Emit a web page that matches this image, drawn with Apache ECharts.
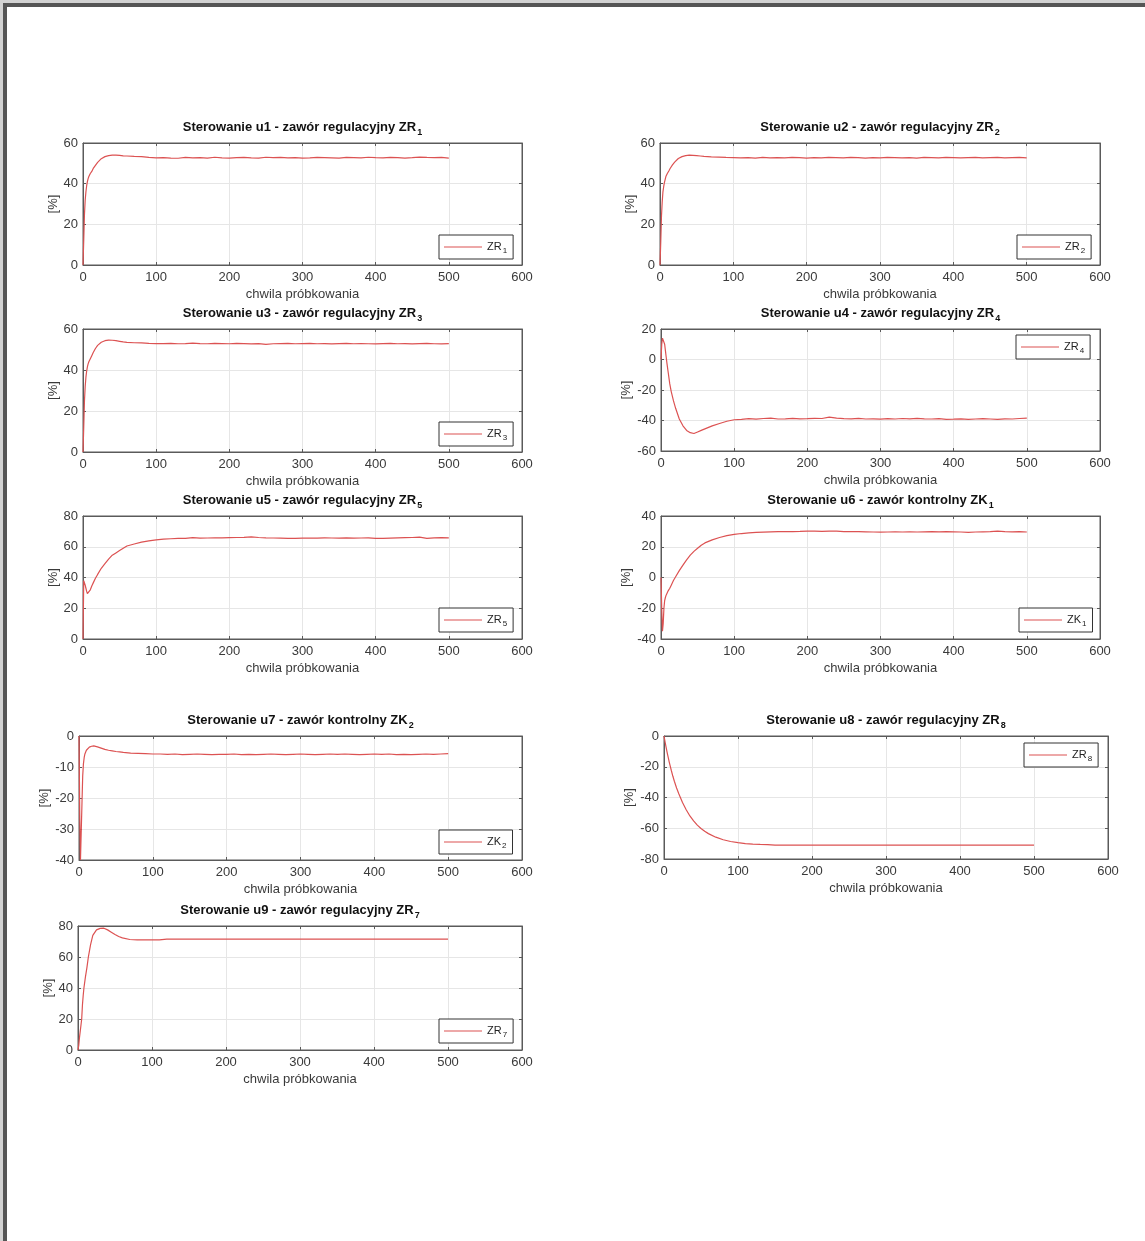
<!DOCTYPE html>
<html>
<head>
<meta charset="utf-8">
<script src="https://cdn.jsdelivr.net/npm/echarts@6/dist/echarts.min.js"></script>
<style>
html,body{margin:0;padding:0;background:#fff;}
#c{width:1145px;height:1241px;}
</style>
</head>
<body>
<div id="c"></div>
<script>
// sample instants (x values)
const T = [0,1,2,3,4,5,6,7,8, 10,12,14,17,20, 25,30,35,40,45,50,55,60, 70,80,90,100,
  110,120,130,140,150,160,170,180,190,200,
  210,220,230,240,250,260,270,280,290,300,
  310,320,330,340,350,360,370,380,390,400,
  410,420,430,440,450,460,470,480,490,500];

const u1 = [0,12,25,32,36,39,41,42.5,43.5, 45,46,47.5,49,50.5, 52.3,53.3,53.8,54,54,53.9,53.7,53.6, 53.4,53.3,52.9,52.7,
  52.8,52.6,52.5,52.9,52.7,52.8,52.6,53.0,52.7,52.6,
  52.8,52.9,52.7,52.6,53.0,52.8,52.9,52.7,52.8,52.6,
  52.7,52.9,52.8,52.7,52.6,52.9,52.8,52.7,53.0,52.8,
  52.7,52.9,52.8,52.6,52.8,53.1,52.9,52.8,52.9,52.6];

const u2 = [0,11,24,31,36,38.5,40.5,42,43.5, 45,46.2,47.6,49.2,50.6, 52.4,53.3,53.8,54,53.9,53.8,53.6,53.4, 53.2,53.1,52.9,52.8,
  52.7,52.8,52.6,52.9,52.7,52.8,52.7,52.9,52.8,52.6,
  52.8,52.7,52.9,52.8,52.7,52.9,52.8,52.6,52.8,52.7,
  52.9,52.8,52.7,52.8,52.6,52.9,52.8,52.7,52.9,52.8,
  52.7,52.8,52.9,52.7,52.8,52.9,52.7,52.8,52.9,52.7];

const u3 = [0,12,25,32,36.5,39.5,41.5,43,44, 45.5,47,48.5,50.5,52, 53.5,54.3,54.6,54.5,54.3,54,53.7,53.5, 53.3,53.2,53.0,52.9,
  52.9,53.0,52.8,52.9,53.1,52.9,52.8,53.0,52.9,52.8,
  53.0,52.9,52.7,52.9,52.5,52.8,52.9,53.0,52.8,52.9,
  53.0,52.8,52.9,52.7,52.9,53.0,52.8,52.9,52.8,52.7,
  52.9,53.0,52.8,52.9,52.7,52.9,53.0,52.8,52.7,52.9];

const u4 = [0,10,14,15,13,10,6,2,-2, -9,-16,-21,-27,-32, -39,-43.5,-46.5,-48,-48.5,-47.5,-46.5,-45.5, -43.5,-42,-40.5,-39.5,
  -39.2,-38.8,-39.1,-38.7,-38.5,-39.0,-38.9,-38.6,-38.9,-38.8,
  -38.6,-38.7,-37.8,-38.4,-38.8,-38.9,-38.6,-39.0,-38.9,-39.1,
  -38.8,-39.0,-38.7,-38.9,-38.6,-38.9,-39.0,-38.8,-39.2,-39.1,
  -38.9,-39.3,-39.0,-38.8,-39.0,-39.3,-38.9,-39.0,-38.7,-38.4];

const u5 = [0,38,38,35,33,31,29.5,29,30, 32,34.5,36.5,39.5,42, 46,49,52,54.5,56,57.5,59,60.5, 61.8,63,63.8,64.5,
  64.9,65.2,65.4,65.5,65.9,65.6,65.7,65.8,65.8,65.9,
  66.0,66.1,66.4,66.0,65.8,65.7,65.6,65.5,65.5,65.6,
  65.7,65.6,65.8,65.7,65.6,65.8,65.6,65.7,65.8,65.5,
  65.4,65.6,65.8,65.9,66.0,66.3,65.5,65.8,65.9,65.8];

const u6 = [0,-20,-35,-30,-20,-15,-13,-11.5,-10.5, -8.5,-7,-5,-2,0.5, 4.5,8,11.5,14.5,17,19,21,22.5, 24.5,26,27.2,28,
  28.6,29.0,29.3,29.5,29.7,29.8,29.8,29.9,30.0,30.2,
  30.1,30.0,30.2,30.1,29.9,29.8,29.8,29.7,29.6,29.5,
  29.6,29.7,29.6,29.7,29.6,29.7,29.8,29.7,29.8,29.7,
  29.6,29.4,29.6,29.7,29.8,30.2,29.8,29.7,29.8,29.6];

const u7 = [0,-25,-40,-40,-22,-13,-9,-7,-5.8, -4.6,-4,-3.6,-3.3,-3.2, -3.5,-3.9,-4.3,-4.6,-4.8,-5,-5.1,-5.3, -5.5,-5.6,-5.7,-5.8,
  -5.8,-5.9,-5.8,-6.0,-5.9,-5.8,-5.9,-6.0,-5.9,-5.9,
  -5.8,-6.0,-5.9,-6.0,-5.9,-5.8,-5.9,-6.0,-5.9,-5.8,
  -5.9,-6.0,-5.9,-5.8,-5.9,-5.8,-5.9,-6.0,-5.9,-5.8,
  -5.9,-5.8,-6.0,-5.9,-6.0,-5.9,-5.8,-5.9,-5.8,-5.7];

const u8 = [0,-2.7,-5.3,-7.7,-10.1,-12.4,-14.6,-16.8,-18.8, -22.6,-26.2,-29.4,-33.8,-37.6, -43.2,-48,-52,-55.2,-58,-60.2,-62,-63.5, -65.8,-67.5,-68.6,-69.4,
  -70,-70.3,-70.5,-70.6,-71,-71,-71,-71,-71,-71,
  -71,-71,-71,-71,-71,-71,-71,-71,-71,-71,
  -71,-71,-71,-71,-71,-71,-71,-71,-71,-71,
  -71,-71,-71,-71,-71,-71,-71,-71,-71,-71];

const u9 = [0,3,8,12,16,20,29,35,40, 47,53,60,68,74, 77.5,78.5,78.6,77.5,76,74.5,73.2,72.3, 71.3,71,71,71,
  71.1,71.5,71.5,71.5,71.5,71.5,71.5,71.5,71.5,71.5,
  71.5,71.5,71.5,71.5,71.5,71.5,71.5,71.5,71.5,71.5,
  71.5,71.5,71.5,71.5,71.5,71.5,71.5,71.5,71.5,71.5,
  71.5,71.5,71.5,71.5,71.5,71.5,71.5,71.5,71.5,71.5];

const seriesValues = [u1,u2,u3,u4,u5,u6,u7,u8,u9];
const seriesNames = ['ZR1','ZR2','ZR3','ZR4','ZR5','ZK1','ZK2','ZR8','ZR7'];
const titleMain = [
  'Sterowanie u1 - zawór regulacyjny ZR',
  'Sterowanie u2 - zawór regulacyjny ZR',
  'Sterowanie u3 - zawór regulacyjny ZR',
  'Sterowanie u4 - zawór regulacyjny ZR',
  'Sterowanie u5 - zawór regulacyjny ZR',
  'Sterowanie u6 - zawór kontrolny ZK',
  'Sterowanie u7 - zawór kontrolny ZK',
  'Sterowanie u8 - zawór regulacyjny ZR',
  'Sterowanie u9 - zawór regulacyjny ZR'
];
const titleSub = ['1','2','3','4','5','1','2','8','7'];
const yMin = [0,0,0,-60,0,-40,-40,-80,0];
const yMax = [60,60,60,20,80,40,0,0,80];
const yStep = [20,20,20,20,20,20,10,20,20];
const xMin = 0, xMax = 600, xStep = 100;
const xName = 'chwila próbkowania';
const yName = '[%]';

// layout
const gridBox = [
  [83,143,439,122],[660,143,440,122],
  [83,329,439,123],[661,329,439,122],
  [83,516,439,123],[661,516,439,123],
  [79,736,443,124],[664,736,444,123],
  [78,926,444,124]
];
const legendPos = [
  [439,235],[1017,235],
  [439,422],[1016,335],
  [439,608],[1019,608],
  [439,830],[1024,743],
  [439,1019]
];

const FONT = '"Liberation Sans", Arial, Helvetica, sans-serif';
const AX = '#5a5a5a';
const LBL = '#3a3a3a';
const LINE = '#dc5252';

const option = {
  animation: false,
  backgroundColor: '#fff',
  textStyle: {fontFamily: FONT},
  grid: [], xAxis: [], yAxis: [], series: [], title: [], legend: [],
  graphic: [
    {type:'rect', shape:{x:0,y:0,width:1145,height:3}, style:{fill:'#d2d2d2'}, silent:true},
    {type:'rect', shape:{x:0,y:0,width:3,height:1241}, style:{fill:'#d2d2d2'}, silent:true},
    {type:'rect', shape:{x:3,y:3,width:1142,height:4}, style:{fill:'#555'}, silent:true},
    {type:'rect', shape:{x:3,y:3,width:4,height:1238}, style:{fill:'#555'}, silent:true}
  ]
};

for (let i = 0; i < 9; i++) {
  const [l,t,w,h] = gridBox[i];
  option.grid.push({left:l, top:t, width:w, height:h, show:true, borderColor:AX, borderWidth:1, backgroundColor:'#fff'});
  option.xAxis.push({
    type:'value', gridIndex:i, min:xMin, max:xMax, interval:xStep, position:'bottom',
    axisLine:{show:true, onZero:false, lineStyle:{color:AX}},
    axisTick:{show:true, inside:true, length:3, lineStyle:{color:AX}},
    axisLabel:{color:LBL, fontSize:13, margin:6, fontFamily:FONT},
    splitLine:{show:true, lineStyle:{color:'#e6e6e6'}},
    name:xName, nameLocation:'middle', nameGap:23,
    nameTextStyle:{color:LBL, fontSize:13, fontFamily:FONT}
  });
  option.xAxis.push({
    type:'value', gridIndex:i, min:xMin, max:xMax, interval:xStep, position:'top',
    axisLine:{show:true, onZero:false, lineStyle:{color:AX}},
    axisTick:{show:true, inside:true, length:3, lineStyle:{color:AX}},
    axisLabel:{show:false}, splitLine:{show:false}
  });
  option.yAxis.push({
    type:'value', gridIndex:i, min:yMin[i], max:yMax[i], interval:yStep[i], position:'left',
    axisLine:{show:true, onZero:false, lineStyle:{color:AX}},
    axisTick:{show:true, inside:true, length:3, lineStyle:{color:AX}},
    axisLabel:{color:LBL, fontSize:13, margin:5, fontFamily:FONT},
    splitLine:{show:true, lineStyle:{color:'#e6e6e6'}},
    name:yName, nameLocation:'middle', nameGap:19, nameRotate:90,
    nameTextStyle:{color:LBL, fontSize:13, fontFamily:FONT}
  });
  option.yAxis.push({
    type:'value', gridIndex:i, min:yMin[i], max:yMax[i], interval:yStep[i], position:'right',
    axisLine:{show:true, onZero:false, lineStyle:{color:AX}},
    axisTick:{show:true, inside:true, length:3, lineStyle:{color:AX}},
    axisLabel:{show:false}, splitLine:{show:false}
  });
  const vals = seriesValues[i];
  option.series.push({
    type:'line', name:seriesNames[i], xAxisIndex:2*i, yAxisIndex:2*i,
    data: T.map((x,k)=>[x, vals[k]]),
    symbol:'none', showSymbol:false, smooth:false,
    lineStyle:{color:LINE, width:1.2}, itemStyle:{color:LINE}
  });
  option.title.push({
    text: titleMain[i] + '{s|' + titleSub[i] + '}',
    left: l + w/2, top: t - 26, textAlign:'center', padding:0,
    textStyle:{fontSize:13, fontWeight:'bold', color:'#111', fontFamily:FONT, lineHeight:20,
      rich:{s:{fontSize:9, fontWeight:'bold', color:'#111', fontFamily:FONT, lineHeight:10, verticalAlign:'bottom', padding:[0,0,0,1]}}}
  });
  option.legend.push({
    data:[seriesNames[i]], left:legendPos[i][0], top:legendPos[i][1],
    orient:'horizontal', icon:'rect', itemWidth:38, itemHeight:1.2, itemGap:4,
    padding:[4,6,4,5], borderColor:'#333', borderWidth:1, borderRadius:0,
    backgroundColor:'#fff', selectedMode:false,
    formatter: n => n.slice(0,2) + '{s|' + n.slice(2) + '}',
    textStyle:{fontSize:11, color:'#222', fontFamily:FONT, lineHeight:16,
      rich:{s:{fontSize:8, color:'#222', fontFamily:FONT, lineHeight:8, verticalAlign:'bottom', padding:[0,0,0,1]}}}
  });
}

const chart = echarts.init(document.getElementById('c'), null, {renderer:'canvas'});
chart.setOption(option);
</script>
</body>
</html>
